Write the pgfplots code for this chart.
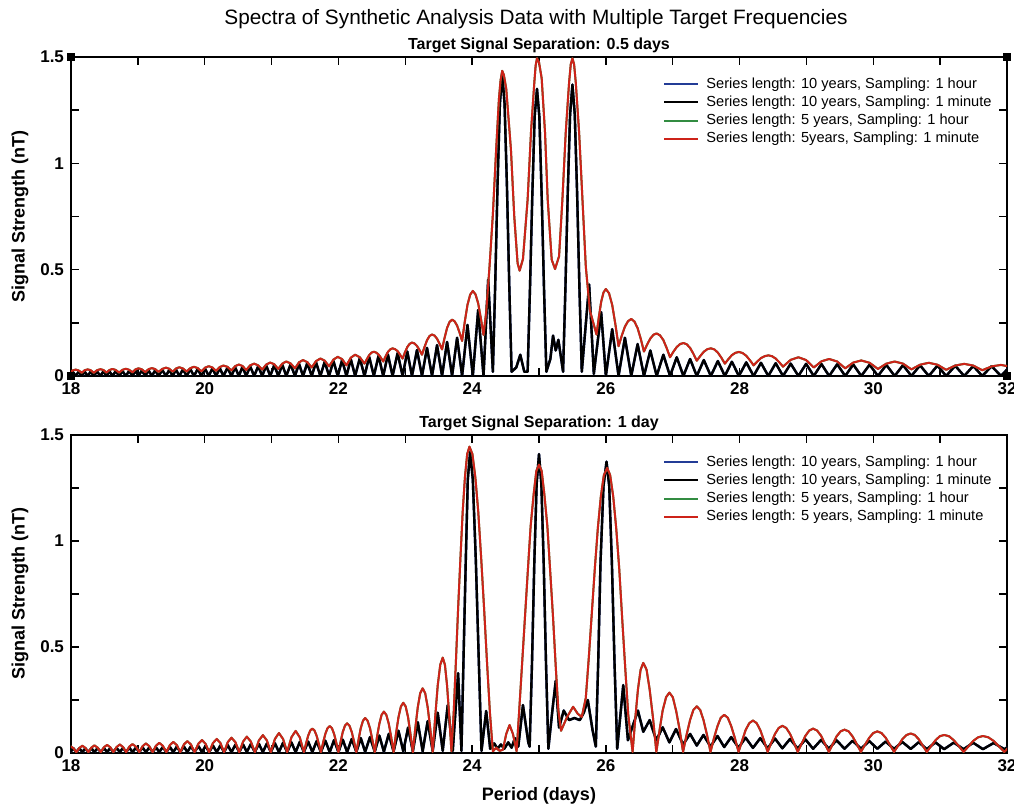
\documentclass[border=0pt]{standalone}
\usepackage{fontspec}
\setmainfont{Liberation Sans}
\usepackage{pgfplots}
\usepackage{pgfplotstable}
\pgfplotsset{compat=1.18}

\definecolor{serblue}{RGB}{35,60,150}
\definecolor{sergreen}{RGB}{50,140,65}
\definecolor{serred}{RGB}{205,35,25}

% Spectra, separation 0.5 days (period in days, 5-year / 10-year amplitude in nT)
\pgfplotstableread{
P red black
17.98 0.015 0
18.025 0.026 0.020
18.07 0.030 0
18.115 0.026 0.020
18.16 0.015 0
18.205 0.027 0.020
18.25 0.031 0
18.295 0.027 0.021
18.34 0.015 0
18.39 0.027 0.021
18.44 0.032 0
18.485 0.028 0.022
18.53 0.016 0
18.575 0.028 0.022
18.62 0.033 0
18.67 0.028 0.023
18.72 0.016 0
18.77 0.029 0.023
18.82 0.034 0
18.87 0.029 0.024
18.92 0.017 0
18.965 0.031 0.025
19.01 0.036 0
19.06 0.031 0.026
19.11 0.018 0
19.16 0.032 0.026
19.21 0.037 0
19.26 0.032 0.027
19.31 0.019 0
19.365 0.033 0.028
19.42 0.039 0
19.47 0.034 0.029
19.52 0.020 0
19.57 0.035 0.030
19.62 0.041 0
19.675 0.035 0.031
19.73 0.021 0
19.785 0.037 0.032
19.84 0.043 0
19.895 0.037 0.033
19.95 0.022 0
20.005 0.039 0.035
20.06 0.046 0
20.115 0.040 0.036
20.17 0.024 0
20.225 0.042 0.037
20.28 0.049 0
20.34 0.043 0.038
20.40 0.026 0
20.455 0.046 0.041
20.51 0.054 0
20.565 0.047 0.043
20.62 0.028 0
20.68 0.050 0.045
20.74 0.058 0
20.80 0.050 0.046
20.86 0.030 0
20.92 0.054 0.049
20.98 0.063 0
21.04 0.055 0.051
21.10 0.033 0
21.16 0.058 0.053
21.22 0.068 0
21.285 0.059 0.055
21.35 0.036 0
21.41 0.064 0.058
21.47 0.075 0
21.535 0.065 0.061
21.60 0.040 0
21.665 0.070 0.064
21.73 0.082 0
21.795 0.072 0.067
21.86 0.045 0
21.925 0.077 0.071
21.99 0.090 0
22.055 0.079 0.075
22.12 0.050 0
22.185 0.086 0.079
22.25 0.100 0
22.32 0.088 0.084
22.39 0.058 0
22.425 0.079 nan
22.46 0.098 0.090
22.495 0.110 nan
22.53 0.114 0
22.565 0.110 nan
22.60 0.101 0.095
22.635 0.086 nan
22.67 0.068 0
22.705 0.092 nan
22.74 0.113 0.101
22.775 0.125 nan
22.81 0.130 0
22.8475 0.126 nan
22.885 0.117 0.108
22.9225 0.100 nan
22.96 0.082 0
22.995 0.111 nan
23.03 0.136 0.115
23.065 0.151 nan
23.10 0.157 0
23.1375 0.153 nan
23.175 0.141 0.122
23.2125 0.122 nan
23.25 0.100 0
23.2875 0.136 nan
23.325 0.168 0.132
23.3625 0.188 nan
23.40 0.195 0
23.4375 0.190 nan
23.475 0.175 0.145
23.5125 0.152 nan
23.55 0.125 0
23.5875 0.179 nan
23.625 0.226 0.160
23.6625 0.254 nan
23.70 0.265 0
23.7375 0.257 nan
23.775 0.237 0.180
23.8125 0.203 nan
23.85 0.165 0
23.89 0.255 nan
23.93 0.334 0.240
23.97 0.382 nan
24.01 0.400 0
24.05 0.384 nan
24.09 0.342 0.310
24.13 0.272 nan
24.17 0.193 0
24.21 0.300 nan
24.24 nan 0.453
24.26 0.515 nan
24.31 0.760 0.020
24.345 nan 0.43
24.36 1.070 nan
24.38 nan 0.90
24.40 1.300 nan
24.415 nan 1.28
24.425 1.390 nan
24.45 1.435 1.42
24.475 1.415 nan
24.485 nan 1.28
24.51 1.350 nan
24.52 nan 0.90
24.555 nan 0.43
24.58 1.066 nan
24.59 nan 0.02
24.63 0.750 nan
24.66 nan 0.04
24.68 0.530 nan
24.71 0.495 nan
24.72 nan 0.10
24.76 0.550 nan
24.78 nan 0.02
24.83 0.830 0.02
24.865 nan 0.41
24.88 1.145 nan
24.90 nan 0.85
24.93 1.380 nan
24.935 nan 1.22
24.95 1.460 nan
24.97 1.494 1.35
25.00 1.475 nan
25.005 nan 1.22
25.04 1.400 0.85
25.075 nan 0.41
25.09 1.145 nan
25.11 nan 0.02
25.13 0.830 nan
25.17 nan 0.08
25.19 0.547 nan
25.21 nan 0.19
25.24 0.503 nan
25.25 nan 0.12
25.29 nan 0.17
25.30 0.563 nan
25.35 0.830 nan
25.36 nan 0.02
25.395 nan 0.41
25.40 1.145 nan
25.43 nan 0.86
25.45 1.380 nan
25.465 nan 1.23
25.475 1.465 nan
25.50 1.494 1.37
25.525 1.465 nan
25.535 nan 1.23
25.55 1.380 nan
25.57 nan 0.86
25.60 1.145 nan
25.605 nan 0.41
25.64 nan 0.02
25.65 0.830 nan
25.70 0.515 nan
25.75 nan 0.43
25.76 0.310 nan
25.82 nan 0.01
25.86 0.195 nan
25.895 0.277 nan
25.93 0.349 0.30
25.965 0.393 nan
26.00 0.409 0
26.0475 0.389 nan
26.095 0.334 0.22
26.1425 0.243 nan
26.19 0.140 0
26.2375 0.189 nan
26.285 0.232 0.18
26.3325 0.258 nan
26.38 0.268 0
26.4275 0.256 nan
26.475 0.225 0.15
26.5225 0.174 nan
26.57 0.115 0
26.6175 0.148 nan
26.665 0.176 0.12
26.7125 0.194 nan
26.76 0.200 0
26.81 0.191 nan
26.86 0.169 0.10
26.91 0.131 nan
26.96 0.088 0
27.01 0.114 nan
27.06 0.136 0.088
27.11 0.150 nan
27.16 0.155 0
27.21 0.149 nan
27.26 0.132 0.080
27.31 0.104 nan
27.36 0.072 0
27.4125 0.094 nan
27.465 0.114 0.075
27.5175 0.126 nan
27.57 0.130 0
27.6225 0.125 nan
27.675 0.110 0.070
27.7275 0.086 nan
27.78 0.058 0
27.8325 0.079 nan
27.885 0.098 0.067
27.9375 0.109 nan
27.99 0.113 0
28.045 0.108 nan
28.10 0.095 0.064
28.155 0.074 nan
28.21 0.050 0
28.265 0.068 nan
28.32 0.084 0.062
28.375 0.093 nan
28.43 0.097 0
28.485 0.093 nan
28.54 0.082 0.060
28.595 0.064 nan
28.65 0.044 0
28.765 0.076 0.058
28.88 0.088 0
28.995 0.075 0.057
29.11 0.040 0
29.225 0.069 0.056
29.34 0.080 0
29.46 0.068 0.055
29.58 0.036 0
29.70 0.063 0.054
29.82 0.073 0
29.945 0.062 0.053
30.07 0.033 0
30.195 0.058 0.052
30.32 0.068 0
30.445 0.058 0.051
30.57 0.031 0
30.70 0.053 0.050
30.83 0.062 0
30.96 0.053 0.049
31.09 0.029 0
31.225 0.049 0.048
31.36 0.057 0
31.495 0.049 0.047
31.63 0.027 0
31.77 0.045 0.046
31.91 0.052 0
32.045 0.044 0.045
32.18 0.025 0
}\sepHalf

% Spectra, separation 1 day
\pgfplotstableread{
P red black
17.90 0.004 0.004
17.945 0.023 0.022
17.99 0.032 0.004
18.035 0.023 0.022
18.08 0.004 0.004
18.125 0.024 0.022
18.17 0.034 0.004
18.215 0.024 0.022
18.26 0.004 0.004
18.305 0.025 0.022
18.35 0.036 0.004
18.398 0.025 0.023
18.445 0.004 0.004
18.493 0.027 0.023
18.54 0.038 0.004
18.587 0.027 0.023
18.633 0.004 0.004
18.682 0.028 0.024
18.73 0.040 0.004
18.778 0.028 0.024
18.825 0.004 0.004
18.873 0.030 0.025
18.92 0.042 0.004
18.971 0.030 0.025
19.021 0.004 0.004
19.071 0.032 0.026
19.12 0.045 0.004
19.171 0.032 0.026
19.221 0.004 0.004
19.271 0.034 0.027
19.32 0.048 0.004
19.373 0.034 0.028
19.426 0.004 0.004
19.478 0.037 0.029
19.53 0.052 0.004
19.583 0.037 0.030
19.635 0.004 0.004
19.688 0.040 0.031
19.74 0.056 0.004
19.794 0.040 0.032
19.848 0.004 0.004
19.904 0.043 0.033
19.96 0.061 0.004
20.013 0.043 0.034
20.066 0.004 0.004
20.123 0.047 0.035
20.18 0.066 0.004
20.235 0.047 0.036
20.289 0.004 0.004
20.345 0.051 0.037
20.40 0.072 0.004
20.459 0.051 0.039
20.517 0.004 0.004
20.574 0.054 0.040
20.63 0.077 0.004
20.69 0.054 0.042
20.75 0.004 0.004
20.81 0.059 0.043
20.87 0.084 0.004
20.93 0.059 0.045
20.989 0.004 0.004
21.05 0.066 0.046
21.11 0.094 0.004
21.172 0.066 0.048
21.233 0.004 0.004
21.297 0.074 0.050
21.36 0.104 0.004
21.422 0.074 0.052
21.483 0.004 0.004
21.515 0.044 nan
21.547 0.081 0.054
21.578 0.106 nan
21.61 0.115 0.004
21.642 0.106 nan
21.674 0.081 0.056
21.706 0.044 nan
21.738 0.004 0.004
21.771 0.049 nan
21.804 0.090 0.058
21.837 0.117 nan
21.87 0.127 0.004
21.903 0.117 nan
21.935 0.090 0.061
21.968 0.049 nan
22.00 0.004 0.004
22.033 0.054 nan
22.065 0.099 0.063
22.098 0.129 nan
22.13 0.140 0.004
22.165 0.129 nan
22.199 0.099 0.066
22.234 0.054 nan
22.268 0.004 0.005
22.301 0.063 nan
22.334 0.117 0.070
22.367 0.152 nan
22.40 0.165 0.005
22.436 0.152 nan
22.472 0.117 0.075
22.507 0.063 nan
22.543 0.004 0.006
22.577 0.075 nan
22.612 0.138 0.082
22.646 0.180 nan
22.68 0.195 0.006
22.716 0.180 nan
22.753 0.138 0.090
22.789 0.075 nan
22.825 0.004 0.007
22.861 0.091 nan
22.898 0.168 0.105
22.934 0.219 nan
22.97 0.237 0.008
23.006 0.219 nan
23.042 0.168 0.120
23.077 0.091 nan
23.113 0.004 0.008
23.15 0.117 nan
23.187 0.216 0.145
23.223 0.282 nan
23.26 0.305 0.008
23.298 0.282 nan
23.335 0.216 0.150
23.373 0.117 nan
23.41 0.005 0.009
23.448 0.172 nan
23.485 0.318 0.190
23.523 0.416 nan
23.56 0.450 0.010
23.593 0.416 nan
23.625 0.318 nan
23.635 nan 0.226
23.658 0.172 nan
23.69 0.008 nan
23.71 nan 0.010
23.724 0.19 nan
23.757 0.43 nan
23.79 0.68 0.376
23.825 0.92 nan
23.84 nan 0.010
23.859 1.14 nan
23.87 nan 0.43
23.892 1.30 nan
23.905 nan 0.91
23.926 1.41 nan
23.935 nan 1.29
23.96 1.445 nan
23.97 nan 1.42
24.004 1.41 nan
24.01 nan 1.29
24.048 1.30 nan
24.055 nan 0.91
24.091 1.14 nan
24.10 nan 0.43
24.135 0.92 nan
24.14 nan 0.010
24.179 0.68 nan
24.21 nan 0.198
24.222 0.43 nan
24.266 0.19 nan
24.27 nan 0.02
24.31 0.008 nan
24.33 nan 0.045
24.36 0.025 nan
24.38 nan 0.02
24.41 0.010 nan
24.43 nan 0.04
24.46 0.015 nan
24.48 nan 0.02
24.51 0.090 nan
24.54 nan 0.05
24.56 0.132 nan
24.59 nan 0.025
24.61 0.090 nan
24.64 nan 0.07
24.665 0.008 nan
24.69 nan 0.03
24.70 0.18 nan
24.745 0.41 nan
24.76 nan 0.226
24.79 0.64 nan
24.835 0.87 nan
24.84 nan 0.05
24.86 nan 0.03
24.875 1.07 nan
24.895 nan 0.42
24.92 1.22 nan
24.93 nan 0.90
24.96 1.33 nan
24.965 nan 1.27
25.00 1.36 1.41
25.035 nan 1.27
25.04 1.33 nan
25.07 nan 0.90
25.08 1.22 nan
25.105 nan 0.42
25.125 1.07 nan
25.14 nan 0.02
25.165 0.87 nan
25.20 nan 0.20
25.21 0.64 nan
25.25 0.41 0.34
25.29 0.20 nan
25.30 nan 0.12
25.33 0.105 nan
25.37 nan 0.20
25.42 0.17 nan
25.45 nan 0.155
25.51 0.218 nan
25.53 nan 0.165
25.58 0.185 nan
25.61 nan 0.155
25.64 0.17 nan
25.67 nan 0.19
25.70 0.26 nan
25.73 nan 0.25
25.745 0.45 nan
25.79 0.66 nan
25.80 nan 0.11
25.835 0.87 nan
25.85 nan 0.03
25.88 1.06 nan
25.885 nan 0.42
25.92 nan 0.90
25.925 1.21 nan
25.965 nan 1.26
25.97 1.31 nan
26.01 nan 1.374
26.02 1.345 nan
26.05 nan 1.26
26.065 1.31 nan
26.09 nan 0.90
26.11 1.21 nan
26.13 nan 0.42
26.155 1.06 nan
26.17 nan 0.02
26.20 0.87 nan
26.245 0.63 nan
26.26 nan 0.32
26.29 0.40 nan
26.33 nan 0.06
26.335 0.18 nan
26.40 0.005 nan
26.44 0.163 nan
26.48 0.300 0.20
26.52 0.393 nan
26.56 0.425 0.10
26.609 0.393 nan
26.655 0.300 0.155
26.706 0.163 nan
26.755 0.005 0.06
26.804 0.109 nan
26.85 0.201 0.121
26.901 0.263 nan
26.95 0.285 0.05
27.001 0.263 nan
27.05 0.201 0.113
27.104 0.109 nan
27.155 0.005 0.04
27.206 0.084 nan
27.26 0.156 0.090
27.309 0.203 nan
27.36 0.220 0.035
27.411 0.203 nan
27.46 0.156 0.085
27.514 0.084 nan
27.565 0.005 0.030
27.616 0.069 nan
27.67 0.127 0.080
27.719 0.166 nan
27.77 0.180 0.028
27.824 0.166 nan
27.875 0.127 0.075
27.931 0.069 nan
27.985 0.005 0.025
28.039 0.059 nan
28.09 0.108 0.072
28.146 0.141 nan
28.20 0.153 0.024
28.255 0.141 nan
28.31 0.108 0.070
28.365 0.059 nan
28.42 0.005 0.022
28.475 0.049 nan
28.53 0.090 0.068
28.585 0.118 nan
28.64 0.128 0.022
28.698 0.118 nan
28.755 0.090 0.066
28.813 0.049 nan
28.87 0.005 0.021
28.928 0.044 nan
28.985 0.081 0.064
29.043 0.106 nan
29.10 0.115 0.020
29.159 0.106 nan
29.22 0.081 0.062
29.276 0.044 nan
29.335 0.005 0.020
29.394 0.042 nan
29.45 0.078 0.060
29.511 0.102 nan
29.57 0.110 0.020
29.631 0.102 nan
29.69 0.078 0.058
29.754 0.042 nan
29.815 0.005 0.020
29.876 0.039 nan
29.94 0.072 0.056
29.999 0.094 nan
30.06 0.102 0.020
30.123 0.094 nan
30.185 0.072 0.054
30.248 0.039 nan
30.31 0.005 0.019
30.373 0.035 nan
30.435 0.065 0.052
30.498 0.085 nan
30.56 0.092 0.019
30.62 0.085 nan
30.68 0.065 0.051
30.74 0.035 nan
30.80 0.005 0.018
30.865 0.033 nan
30.93 0.060 0.050
30.995 0.079 nan
31.06 0.085 0.018
31.133 0.079 nan
31.205 0.060 0.049
31.278 0.033 nan
31.35 0.005 0.018
31.423 0.031 nan
31.495 0.057 0.048
31.568 0.074 nan
31.64 0.080 0.018
31.72 0.074 nan
31.80 0.057 0.047
31.88 0.031 nan
31.96 0.005 0.018
32.033 0.029 nan
32.105 0.053 0.046
32.178 0.069 nan
32.25 0.075 0.018
}\sepOne

\newcommand\ticklabelfont{\bfseries\fontsize{8.5}{10}\selectfont}
\newcommand\axislabelfont{\bfseries\fontsize{9}{11}\selectfont}
\newcommand\panelfont{\bfseries\fontsize{8}{10}\selectfont}
\newcommand\legendfont{\fontsize{7.3}{8.5}\selectfont}
\newcommand\titlefont{\fontsize{10.4}{12}\selectfont}

\pgfplotsset{
  spectrum/.style={
    scale only axis, width=468pt,
    xmin=18, xmax=32, ymin=0, ymax=1.5,
    xtick={18,20,...,32}, minor xtick={19,21,...,31},
    ytick={0,0.5,1,1.5}, minor ytick={0.25,0.75,1.25},
    tick align=inside, major tick length=4pt, minor tick length=4pt,
    every tick/.style={black, line width=0.7pt},
    axis line style={line width=0.8pt},
    /pgf/number format/assume math mode=true,
    tick label style={font=\ticklabelfont},
    ylabel={Signal Strength (nT)},
    ylabel style={font=\axislabelfont, at={(axis description cs:-0.0545,0.5)}, anchor=center},
    title style={font=\panelfont, at={(axis description cs:0.5,1)}, anchor=base, yshift=-2.5pt},
    clip mode=individual,
    legend cell align=left,
    legend image code/.code={\draw[#1, line width=1pt] (0pt,0pt) -- (17pt,0pt);},
    legend style={draw=none, fill=none, font=\legendfont,
      at={(rel axis cs:0.6325,1)}, anchor=north west, yshift=-9pt,
      inner sep=0pt, row sep=0.3pt, column sep=3pt,
      nodes={inner sep=0.5pt, text height=6pt, text depth=1.8pt}},
  },
  series/.style={line width=1pt, line join=round},
  tenyear/.style={line width=1.2pt, line join=round},
}

\begin{document}
\begin{tikzpicture}
\begin{axis}[spectrum, at={(35.5pt,215.5pt)}, anchor=south west, height=159.5pt,
    title={Target Signal Separation: 0.5 days}]
  \addplot[tenyear, serblue] table[x=P, y=black] {\sepHalf};
  \addlegendentry{Series length: 10 years, Sampling: 1 hour}
  \addplot[tenyear, black] table[x=P, y=black] {\sepHalf};
  \addlegendentry{Series length: 10 years, Sampling: 1 minute}
  \addplot[series, sergreen] table[x=P, y=red] {\sepHalf};
  \addlegendentry{Series length: 5 years, Sampling: 1 hour}
  \addplot[series, serred] table[x=P, y=red] {\sepHalf};
  \addlegendentry{Series length: 5years, Sampling: 1 minute}
  \addplot[only marks, mark=square*, mark size=1.6pt, black, forget plot]
    coordinates {(18,0) (18,1.5) (32,0) (32,1.5)};
\end{axis}

\begin{axis}[spectrum, at={(35.5pt,27pt)}, anchor=south west, height=159pt,
    title={Target Signal Separation: 1 day},
    xlabel={Period (days)},
    xlabel style={font=\axislabelfont, at={(axis description cs:0.5,0)}, anchor=base, yshift=-24pt}]
  \addplot[tenyear, serblue] table[x=P, y=black] {\sepOne};
  \addlegendentry{Series length: 10 years, Sampling: 1 hour}
  \addplot[tenyear, black] table[x=P, y=black] {\sepOne};
  \addlegendentry{Series length: 10 years, Sampling: 1 minute}
  \addplot[series, sergreen] table[x=P, y=red] {\sepOne};
  \addlegendentry{Series length: 5 years, Sampling: 1 hour}
  \addplot[series, serred] table[x=P, y=red] {\sepOne};
  \addlegendentry{Series length: 5 years, Sampling: 1 minute}
\end{axis}

\node[font=\titlefont, anchor=base] at (268pt,391pt)
  {Spectra of Synthetic Analysis Data with Multiple Target Frequencies};

\pgfresetboundingbox
\path[use as bounding box] (0,0) rectangle (507pt,403.5pt);
\end{tikzpicture}
\end{document}
